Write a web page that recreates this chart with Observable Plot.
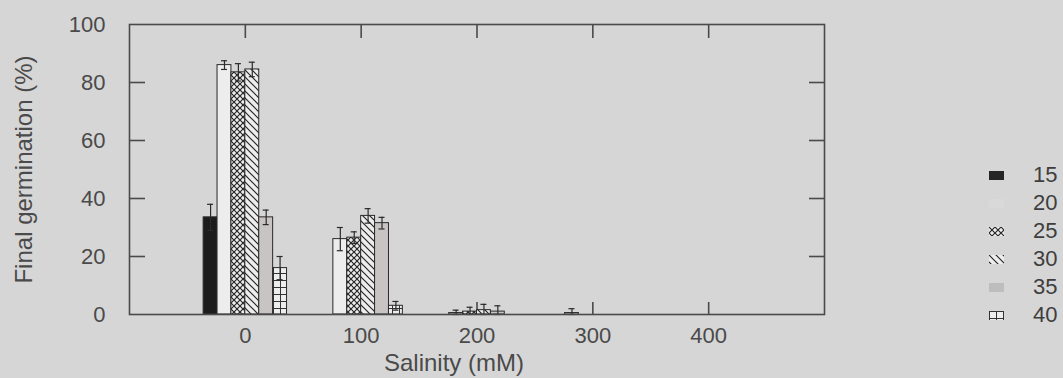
<!DOCTYPE html>
<html><head><meta charset="utf-8">
<script src="https://cdn.jsdelivr.net/npm/d3@7"></script>
<script src="https://cdn.jsdelivr.net/npm/@observablehq/plot@0.6"></script>
<style>
html,body{margin:0;padding:0;background:#d6d6d6;}
#wrap{position:relative;width:1063px;height:378px;overflow:hidden;font-family:"Liberation Sans",Arial,sans-serif;}
#legend{position:absolute;left:989px;top:161px;}
.row{height:28px;display:flex;align-items:center;font-size:22px;color:#3e3e3e;}
.row svg{width:15px;height:9px;margin-right:29px;display:block;}
</style></head><body>
<svg width="0" height="0" style="position:absolute">
<defs>
<pattern id="p25" patternUnits="userSpaceOnUse" width="6" height="6">
<rect width="6" height="6" fill="#ededed"/>
<path d="M0,0L6,6M6,0L0,6" stroke="#262626" stroke-width="1.2"/>
</pattern>
<pattern id="p30" patternUnits="userSpaceOnUse" width="7" height="7">
<rect width="7" height="7" fill="#ededed"/>
<path d="M-1,-1L8,8M-1,6L1,8M6,-1L8,1" stroke="#262626" stroke-width="1.2"/>
</pattern>
<pattern id="p40" patternUnits="userSpaceOnUse" width="7" height="7">
<rect width="7" height="7" fill="#ededed"/>
<path d="M0,0.5H7M0.5,0V7" stroke="#333" stroke-width="1"/>
</pattern>
</defs>
</svg>
<div id="wrap"><div id="legend"></div></div>
<script>
// Data
const salinity = [0, 100, 200, 300, 400];
const temperatures = [15, 20, 25, 30, 35, 40];
const mean15 = [33.5, 0, 0, 0, 0];
const err15  = [4.5, 0, 0, 0, 0];
const mean20 = [86, 26, 0.5, 0.5, 0];
const err20  = [1.5, 4, 1, 1.5, 0];
const mean25 = [83.5, 26.5, 1, 0, 0];
const err25  = [3, 2, 1.5, 0, 0];
const mean30 = [84.5, 34, 1.5, 0, 0];
const err30  = [2.5, 2.5, 2, 0, 0];
const mean35 = [33.5, 31.5, 1, 0, 0];
const err35  = [2.5, 2, 2, 0, 0];
const mean40 = [16, 3, 0, 0, 0];
const err40  = [4, 1.5, 0, 0, 0];
const yTicks = [0, 20, 40, 60, 80, 100];
const xLabel = "Salinity (mM)";
const yLabel = "Final germination (%)";

const means = [mean15, mean20, mean25, mean30, mean35, mean40];
const errors = [err15, err20, err25, err30, err35, err40];
const fills = ["#1c1c1c", "#ededed", "url(#p25)", "url(#p30)", "#c9c4c4", "url(#p40)"];
const legendFills = ["#262626", "#d9d9d9", "url(#p25)", "url(#p30)", "#bdbdbd", "url(#p40)"];

const rows = [];
temperatures.forEach((t, i) => salinity.forEach((s, j) =>
  rows.push({temp: t, ti: i, salinity: s, mean: means[i][j], err: errors[i][j]})));
const barW = 12;
const xa = d => d.salinity + (d.ti - 3) * barW;
const xb = d => d.salinity + (d.ti - 2) * barW;
const xc = d => d.salinity + (d.ti - 2.5) * barW;
const bars = rows.filter(d => d.mean > 0);
const errs = rows.filter(d => d.err > 0);
const lo = d => Math.max(0, d.mean - d.err);
const hi = d => d.mean + d.err;
const cap = 2.6;
const inner = yTicks.filter(v => v > 0 && v < 100);
const ink = "#4a4a4a";

const chart = Plot.plot({
  width: 1063, height: 378,
  marginLeft: 129, marginRight: 239, marginTop: 24, marginBottom: 64,
  x: {domain: [-100, 500]},
  y: {domain: [0, 100]},
  color: {type: "identity"},
  style: {fontSize: "22px", fontFamily: '"Liberation Sans", Arial, sans-serif', color: ink, background: "transparent"},
  marks: [
    Plot.axisY({anchor: "left", ticks: yTicks, tickSize: 0, tickPadding: 24, label: null}),
    Plot.axisY({anchor: "left", ticks: inner, tickSize: -16, tickFormat: () => "", label: null, strokeWidth: 1.6}),
    Plot.axisY({anchor: "right", ticks: inner, tickSize: -16, tickFormat: () => "", label: null, strokeWidth: 1.6}),
    Plot.axisX({anchor: "bottom", ticks: salinity, tickSize: 0, tickPadding: 13, label: null}),
    Plot.axisX({anchor: "bottom", ticks: salinity, tickSize: -12, tickFormat: () => "", label: null, strokeWidth: 1.6}),
    Plot.axisX({anchor: "top", ticks: salinity, tickSize: -13, tickFormat: () => "", label: null, strokeWidth: 1.6}),
    Plot.rectY(bars, {x1: xa, x2: xb, y1: 0, y2: "mean", fill: d => fills[d.ti], stroke: "#2a2a2a", strokeWidth: 1}),
    Plot.ruleX(errs, {x: xc, y1: lo, y2: hi, stroke: "#2a2a2a", strokeWidth: 1.2}),
    Plot.ruleY(errs, {y: hi, x1: d => xc(d) - cap, x2: d => xc(d) + cap, stroke: "#2a2a2a", strokeWidth: 1.2}),
    Plot.ruleY(errs, {y: lo, x1: d => xc(d) - cap, x2: d => xc(d) + cap, stroke: "#2a2a2a", strokeWidth: 1.2}),
    Plot.frame({stroke: ink, strokeWidth: 1.6}),
    Plot.text([xLabel], {frameAnchor: "bottom", dx: -23, dy: 49, lineAnchor: "middle", textAnchor: "middle", fontSize: 24, fill: ink}),
    Plot.text([yLabel], {frameAnchor: "left", dx: -105, rotate: -90, lineAnchor: "middle", textAnchor: "middle", fontSize: 24, fill: ink})
  ]
});
document.getElementById("wrap").prepend(chart);

const legend = document.getElementById("legend");
temperatures.forEach((t, i) => {
  const row = document.createElement("div");
  row.className = "row";
  row.innerHTML = `<svg viewBox="0 0 15 9"><rect width="15" height="9" fill="${legendFills[i]}"/></svg><span>${t}</span>`;
  legend.appendChild(row);
});
</script>
</body></html>
